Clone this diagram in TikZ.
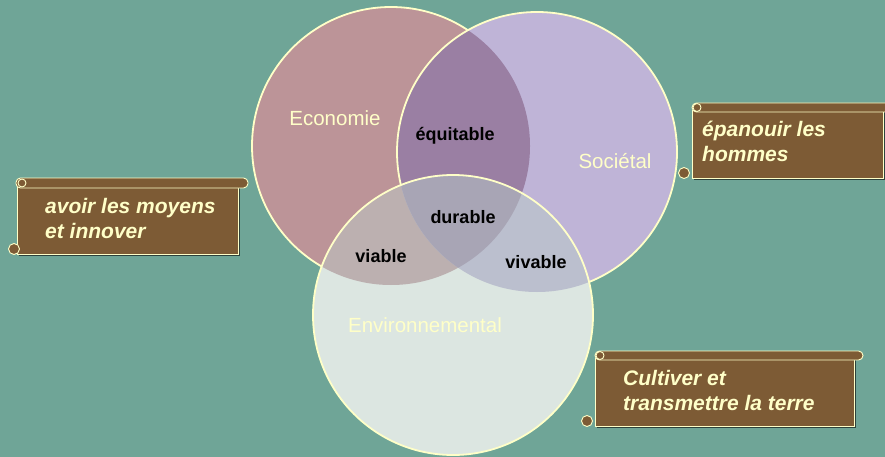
\documentclass[tikz,border=0pt]{standalone}
\usepackage{fontspec}
\setmainfont{Liberation Sans}
\usetikzlibrary{shadows}

\definecolor{bgteal}{RGB}{111,165,151}
\definecolor{cream}{RGB}{255,255,200}
\definecolor{ecofill}{RGB}{188,148,152}
\definecolor{socfill}{RGB}{191,180,215}
\definecolor{envfill}{RGB}{220,230,225}
\definecolor{equifill}{RGB}{154,127,163}
\definecolor{durfill}{RGB}{168,165,181}
\definecolor{viafill}{RGB}{188,176,176}
\definecolor{vivfill}{RGB}{187,191,206}
\definecolor{scrollbrown}{RGB}{125,91,53}

\begin{document}
\begin{tikzpicture}[x=1pt,y=-1pt,
    ring/.style={draw=cream,line width=1.8},
    circlelabel/.style={font=\fontsize{20.5}{24}\selectfont,text=cream,inner sep=0},
    zonelabel/.style={font=\fontsize{18}{22}\selectfont\bfseries,text=black,inner sep=0},
    scrolltext/.style={font=\fontsize{21}{25}\selectfont\bfseries\itshape,text=cream,align=left,inner sep=0},
    scrollpart/.style={fill=scrollbrown,draw=cream,line width=0.9},
    scrollbody/.style={scrollpart,inner sep=0,anchor=north west,
        drop shadow={shadow xshift=1.2pt,shadow yshift=-1.2pt,fill=black,opacity=0.6}}]
    \fill[bgteal] (0,0) rectangle (885,457);
    \useasboundingbox (0,0) rectangle (885,457);

    % the three circles
    \def\ecocircle{(391,146) circle[radius=139]}
    \def\soccircle{(537,152) circle[radius=140]}
    \def\envcircle{(453,315) circle[radius=140]}

    \fill[ecofill] \ecocircle;
    \draw[ring] \ecocircle;
    \fill[socfill] \soccircle;
    \begin{scope}
        \clip \ecocircle;
        \fill[equifill] \soccircle;
    \end{scope}
    \draw[ring] \soccircle;
    \fill[envfill] \envcircle;
    \begin{scope}
        \clip \envcircle;
        \fill[viafill] \ecocircle;
        \fill[vivfill] \soccircle;
        \clip \ecocircle;
        \fill[durfill] \soccircle;
    \end{scope}
    \draw[ring] \envcircle;

    \node[circlelabel,anchor=base] (eco) at (335,126) {Economie};
    \node[circlelabel,anchor=base] (soc) at (615,168) {Sociétal};
    \node[circlelabel,anchor=base] (env) at (425,332) {Environnemental};

    \node[zonelabel,anchor=base] (equit) at (455,141) {équitable};
    \node[zonelabel,anchor=base] (durab) at (463,223) {durable};
    \node[zonelabel,anchor=base] (viab) at (381,262) {viable};
    \node[zonelabel,anchor=base] (vivab) at (536,268) {vivable};

    % scroll on the left
    \node[scrollbody,minimum width=221,minimum height=68] (moyensbox) at (17,186) {};
    \draw[scrollpart,rounded corners=4.5] (16,178) rectangle (248,188);
    \draw[scrollpart] (22,183) circle[radius=4];
    \draw[scrollpart] (14,249) circle[radius=5.5];
    \node[scrolltext,anchor=base west] (moyens) at (45,238) {avoir les moyens\\et innover};

    % scroll on the top right
    \node[scrollbody,minimum width=191,minimum height=68] (hommesbox) at (692,110) {};
    \draw[scrollpart,rounded corners=4.5] (692,103) rectangle (892,112);
    \draw[scrollpart] (697,107.5) circle[radius=4];
    \draw[scrollpart] (684,173) circle[radius=5.5];
    \node[scrolltext,anchor=base west] (hommes) at (702,162) {épanouir les\\hommes};

    % scroll on the bottom right
    \node[scrollbody,minimum width=259,minimum height=68] (terrebox) at (595,358) {};
    \draw[scrollpart,rounded corners=4.5] (595,351) rectangle (863,360);
    \draw[scrollpart] (600,355.5) circle[radius=4];
    \draw[scrollpart] (587,421) circle[radius=5.5];
    \node[scrolltext,anchor=base west] (terre) at (623,410) {Cultiver et\\transmettre la terre};
\end{tikzpicture}
\end{document}
